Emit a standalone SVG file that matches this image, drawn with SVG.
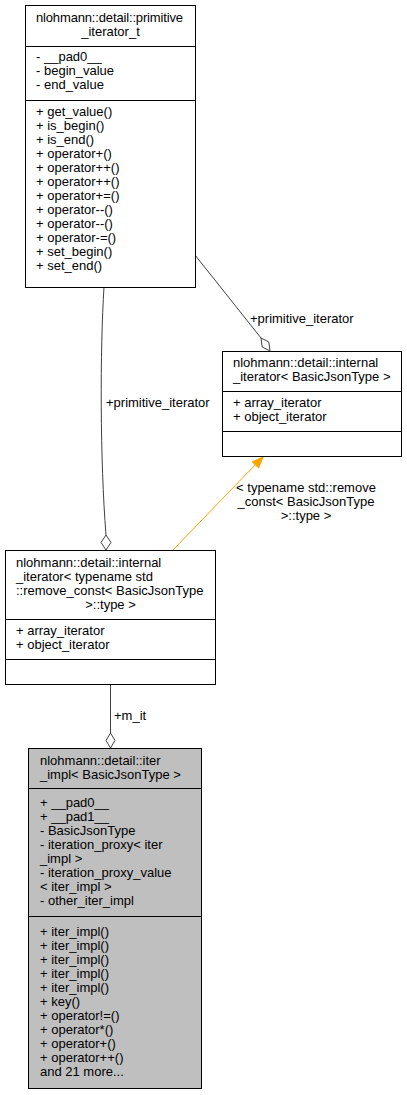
<svg xmlns="http://www.w3.org/2000/svg" width="407" height="1095" viewBox="0 0 407 1095">
<style>
text{font-family:"Liberation Sans",Arial,sans-serif;font-size:13px;fill:#000}
.box{fill:#fff;stroke:#000;stroke-width:1}
.hl{fill:#bfbfbf;stroke:#000;stroke-width:1}
.sep{stroke:#000;stroke-width:1}
.e{fill:none;stroke:#404040;stroke-width:1}
.dia{fill:#fff;stroke:#404040;stroke-width:1}
.inh{fill:none;stroke:#ffa500;stroke-width:1}
.ah{fill:#ffa500;stroke:#ffa500;stroke-width:1}
.c{text-anchor:middle}
</style>
<rect width="407" height="1095" fill="#fff"/>
<g id="connectors">
<path class="e" d="M195,255 L261,338"/>
<polygon class="dia" points="261,338 268.8,342 270,351 262.2,347"/>
<text x="250" y="323">+primitive_iterator</text>
<path class="e" d="M104,287 C100,350 100,460 106,535"/>
<polygon class="dia" points="106,535 111,542.5 106,550 101,542.5"/>
<text x="106" y="407">+primitive_iterator</text>
<path class="inh" d="M173,550 L255,465"/>
<polygon class="ah" points="263,457 252.2,461.8 258.6,468"/>
<text class="c" x="306" y="492">&lt; typename std::remove</text>
<text class="c" x="306" y="506">_const&lt; BasicJsonType</text>
<text class="c" x="306" y="520">&gt;::type &gt;</text>
<path class="e" d="M110.5,684 L110.5,733"/>
<polygon class="dia" points="110.5,733 115,740.5 110.5,748 106,740.5"/>
<text x="114" y="720">+m_it</text>
</g>
<g id="primitive_iterator_t">
<rect class="box" x="25.5" y="5.5" width="170" height="282"/>
<line class="sep" x1="25.5" y1="46.5" x2="195.5" y2="46.5"/>
<line class="sep" x1="25.5" y1="100.5" x2="195.5" y2="100.5"/>
<text x="36" y="22" textLength="147" lengthAdjust="spacing">nlohmann::detail::primitive</text>
<text class="c" x="110.5" y="36">_iterator_t</text>
<text x="36" y="61">- __pad0__</text>
<text x="36" y="75">- begin_value</text>
<text x="36" y="89">- end_value</text>
<text x="36" y="116">+ get_value()</text>
<text x="36" y="130">+ is_begin()</text>
<text x="36" y="144">+ is_end()</text>
<text x="36" y="158">+ operator+()</text>
<text x="36" y="172">+ operator++()</text>
<text x="36" y="186">+ operator++()</text>
<text x="36" y="200">+ operator+=()</text>
<text x="36" y="214">+ operator--()</text>
<text x="36" y="228">+ operator--()</text>
<text x="36" y="242">+ operator-=()</text>
<text x="36" y="256">+ set_begin()</text>
<text x="36" y="270">+ set_end()</text>
</g>
<g id="internal_iterator_basic">
<rect class="box" x="222.5" y="351.5" width="179" height="105"/>
<line class="sep" x1="222.5" y1="391.5" x2="401.5" y2="391.5"/>
<line class="sep" x1="222.5" y1="431.5" x2="401.5" y2="431.5"/>
<text x="233" y="367">nlohmann::detail::internal</text>
<text x="233" y="381">_iterator&lt; BasicJsonType &gt;</text>
<text x="233" y="407">+ array_iterator</text>
<text x="233" y="421">+ object_iterator</text>
</g>
<g id="internal_iterator_remove_const">
<rect class="box" x="5.5" y="550.5" width="210" height="134"/>
<line class="sep" x1="5.5" y1="619.5" x2="215.5" y2="619.5"/>
<line class="sep" x1="5.5" y1="659.5" x2="215.5" y2="659.5"/>
<text x="16" y="567">nlohmann::detail::internal</text>
<text x="16" y="581">_iterator&lt; typename std</text>
<text x="16" y="595">::remove_const&lt; BasicJsonType</text>
<text class="c" x="110.5" y="609">&gt;::type &gt;</text>
<text x="16" y="635">+ array_iterator</text>
<text x="16" y="649">+ object_iterator</text>
</g>
<g id="iter_impl">
<rect class="hl" x="28.5" y="748.5" width="173" height="340"/>
<line class="sep" x1="28.5" y1="788.5" x2="201.5" y2="788.5"/>
<line class="sep" x1="28.5" y1="916.5" x2="201.5" y2="916.5"/>
<text x="40" y="765">nlohmann::detail::iter</text>
<text x="40" y="779">_impl&lt; BasicJsonType &gt;</text>
<text x="40" y="807">+ __pad0__</text>
<text x="40" y="821">+ __pad1__</text>
<text x="40" y="835">- BasicJsonType</text>
<text x="40" y="849">- iteration_proxy&lt; iter</text>
<text x="40" y="863">_impl &gt;</text>
<text x="40" y="877">- iteration_proxy_value</text>
<text x="40" y="891">&lt; iter_impl &gt;</text>
<text x="40" y="905">- other_iter_impl</text>
<text x="40" y="936">+ iter_impl()</text>
<text x="40" y="950">+ iter_impl()</text>
<text x="40" y="964">+ iter_impl()</text>
<text x="40" y="978">+ iter_impl()</text>
<text x="40" y="992">+ iter_impl()</text>
<text x="40" y="1006">+ key()</text>
<text x="40" y="1020">+ operator!=()</text>
<text x="40" y="1034">+ operator*()</text>
<text x="40" y="1048">+ operator+()</text>
<text x="40" y="1062">+ operator++()</text>
<text x="40" y="1076">and 21 more...</text>
</g>
</svg>
